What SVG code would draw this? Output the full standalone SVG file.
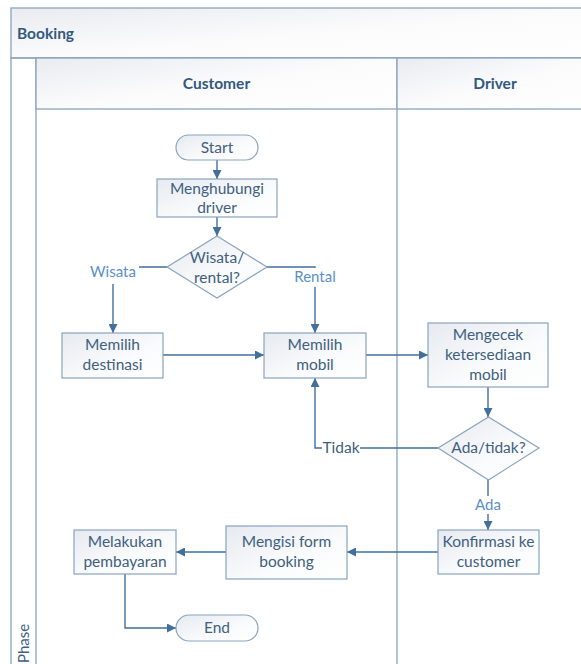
<svg xmlns="http://www.w3.org/2000/svg" width="581" height="664" viewBox="0 0 581 664">
<defs>
<linearGradient id="hg" x1="0" y1="0" x2="1" y2="1">
<stop offset="0" stop-color="#e9ebf0"/><stop offset="0.5" stop-color="#fbfbfc"/><stop offset="1" stop-color="#ffffff"/>
</linearGradient>
<linearGradient id="ng" x1="0" y1="0" x2="1" y2="1">
<stop offset="0" stop-color="#e6eaf0"/><stop offset="0.6" stop-color="#fafbfc"/><stop offset="1" stop-color="#ffffff"/>
</linearGradient>
<marker id="arr" viewBox="0 0 10 10" refX="10" refY="5" markerWidth="9" markerHeight="9" markerUnits="userSpaceOnUse" orient="auto">
<path d="M0,0 L10,5 L0,10 z" fill="#41709c"/>
</marker>
<style>
.frame{fill:none;stroke:#8aa4bf;stroke-width:1.3}
.hdr{fill:url(#hg);stroke:#8aa4bf;stroke-width:1.3}
.node{fill:url(#ng);stroke:#8aa4bf;stroke-width:1.2}
.t{font-family:Lato,"Open Sans",sans-serif;font-size:15.5px;fill:#40607f;text-anchor:middle}
.h{font-family:Lato,"Open Sans",sans-serif;font-size:15.5px;font-weight:bold;fill:#32597f}
.lbl{font-family:Lato,"Open Sans",sans-serif;font-size:15px;fill:#5b8fc8;text-anchor:middle}
.lblb{fill:#ffffff}
.c{fill:none;stroke:#41709c;stroke-width:1.4}
</style>
</defs>
<rect width="581" height="664" fill="#ffffff"/>
<g id="pool">
<rect class="hdr" x="11" y="8" width="600" height="50"/>
<text class="h" x="17" y="39">Booking</text>
<rect class="frame" x="11" y="58" width="600" height="620"/>
<line class="frame" x1="36" y1="58" x2="36" y2="678"/>
<text style="font-family:Lato,'Open Sans',sans-serif;font-size:15px;fill:#40607f" transform="translate(29,663) rotate(-90)">Phase</text>
</g>
<g id="lane-customer">
<rect class="hdr" x="36" y="58" width="361" height="51"/>
<text class="h" x="216.5" y="89" text-anchor="middle">Customer</text>
</g>
<g id="lane-driver">
<rect class="hdr" x="397" y="58" width="200" height="51"/>
<text class="h" x="495" y="89" text-anchor="middle">Driver</text>
<line class="frame" x1="397" y1="109" x2="397" y2="678"/>
</g>
<g id="connectors">
<line class="c" x1="217" y1="160" x2="217" y2="179" marker-end="url(#arr)"/>
<line class="c" x1="217" y1="217" x2="217" y2="236" marker-end="url(#arr)"/>
<path class="c" d="M167,267 H113 V333" marker-end="url(#arr)"/>
<path class="c" d="M267,267 H315 V333" marker-end="url(#arr)"/>
<line class="c" x1="163" y1="355" x2="264" y2="355" marker-end="url(#arr)"/>
<line class="c" x1="366" y1="355" x2="428" y2="355" marker-end="url(#arr)"/>
<line class="c" x1="488" y1="387" x2="488" y2="417" marker-end="url(#arr)"/>
<path class="c" d="M438,448 H315 V378" marker-end="url(#arr)"/>
<line class="c" x1="488" y1="480" x2="488" y2="530" marker-end="url(#arr)"/>
<line class="c" x1="438" y1="552" x2="347" y2="552" marker-end="url(#arr)"/>
<line class="c" x1="226" y1="552" x2="176" y2="552" marker-end="url(#arr)"/>
<path class="c" d="M125,574 V628 H176" marker-end="url(#arr)"/>
<rect class="lblb" x="87" y="261" width="52" height="23"/>
<text class="lbl" x="113" y="277">Wisata</text>
<rect class="lblb" x="290" y="268" width="50" height="19"/>
<text class="lbl" x="315" y="282">Rental</text>
<rect class="lblb" x="322" y="440" width="38" height="16"/>
<text class="t" x="341" y="453">Tidak</text>
<rect class="lblb" x="473" y="496" width="30" height="18"/>
<text class="lbl" x="488" y="510">Ada</text>
</g>
<g id="start">
<rect class="node" x="176" y="135" width="82" height="25" rx="12.5"/>
<text class="t" x="217" y="153">Start</text>
</g>
<g id="menghubungi">
<rect class="node" x="157" y="179" width="120" height="38"/>
<text class="t" x="217" y="194">Menghubungi</text>
<text class="t" x="217" y="213">driver</text>
</g>
<g id="wisata-rental">
<polygon class="node" points="217,236 267,267 217,298 167,267"/>
<text class="t" x="217" y="263">Wisata/</text>
<text class="t" x="217" y="283">rental?</text>
</g>
<g id="memilih-destinasi">
<rect class="node" x="62" y="333" width="101" height="45"/>
<text class="t" x="112.5" y="350">Memilih</text>
<text class="t" x="112.5" y="370">destinasi</text>
</g>
<g id="memilih-mobil">
<rect class="node" x="264" y="333" width="102" height="45"/>
<text class="t" x="315" y="350">Memilih</text>
<text class="t" x="315" y="370">mobil</text>
</g>
<g id="mengecek">
<rect class="node" x="428" y="323" width="120" height="64"/>
<text class="t" x="488" y="340">Mengecek</text>
<text class="t" x="488" y="360">ketersediaan</text>
<text class="t" x="488" y="380">mobil</text>
</g>
<g id="ada-tidak">
<polygon class="node" points="488.5,417 539,448 488.5,480 438,448"/>
<text class="t" x="488.5" y="453">Ada/tidak?</text>
</g>
<g id="konfirmasi">
<rect class="node" x="438" y="530" width="101" height="44"/>
<text class="t" x="488.5" y="547">Konfirmasi ke</text>
<text class="t" x="488.5" y="567">customer</text>
</g>
<g id="mengisi">
<rect class="node" x="226" y="526" width="121" height="53"/>
<text class="t" x="286.5" y="547">Mengisi form</text>
<text class="t" x="286.5" y="567">booking</text>
</g>
<g id="melakukan">
<rect class="node" x="74" y="530" width="102" height="44"/>
<text class="t" x="125" y="547">Melakukan</text>
<text class="t" x="125" y="567">pembayaran</text>
</g>
<g id="end">
<rect class="node" x="176" y="615" width="82" height="26" rx="13"/>
<text class="t" x="217" y="633">End</text>
</g>
</svg>
